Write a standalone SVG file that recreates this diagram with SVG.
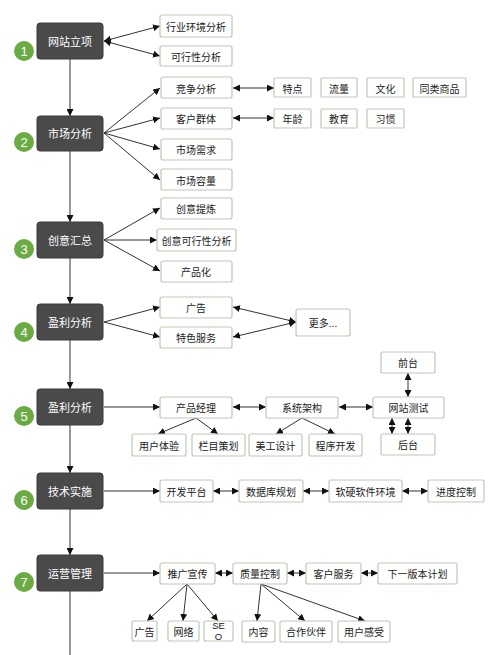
<svg xmlns="http://www.w3.org/2000/svg" width="500" height="655" viewBox="0 0 500 655">
<defs>
<marker id="ah" viewBox="0 0 10 10" refX="10" refY="5" markerWidth="7" markerHeight="7" markerUnits="userSpaceOnUse" orient="auto-start-reverse">
<path d="M0,0 L10,5 L0,10 z" fill="#111"/>
</marker>
<style>
.main rect{fill:#4a4a4a;stroke:#3a3a3a;stroke-width:1}
.main text{fill:#fff;font-family:"Noto Sans CJK SC","Liberation Sans",sans-serif;font-size:11px;text-anchor:middle;dominant-baseline:central}
.num circle{fill:#6aab43}
.num text{fill:#fff;font-family:"Liberation Sans",sans-serif;font-size:13px;text-anchor:middle;dominant-baseline:central}
.box rect{fill:#fff;stroke:#bfc8b3;stroke-width:1.2}
.box text{fill:#222;font-family:"Noto Sans CJK SC","Liberation Sans",sans-serif;font-size:10px;text-anchor:middle;dominant-baseline:central}
.box text.sm{font-family:"Liberation Sans",sans-serif;font-size:9.5px}
.c line,.c path{stroke:#333;stroke-width:1;fill:none}
.a{marker-end:url(#ah)}
.b{marker-end:url(#ah);marker-start:url(#ah)}
</style>
</defs>
<rect width="500" height="655" fill="#fff"/>

<g class="c" id="connectors">
<line class="a" x1="70" y1="59" x2="70" y2="116"/>
<line class="a" x1="70" y1="151" x2="70" y2="222"/>
<line class="a" x1="70" y1="258" x2="70" y2="304"/>
<line class="a" x1="70" y1="340" x2="70" y2="389"/>
<line class="a" x1="70" y1="425" x2="70" y2="473"/>
<line class="a" x1="70" y1="509" x2="70" y2="555"/>
<line x1="70" y1="591" x2="70" y2="655"/>
<line class="b" x1="104" y1="41" x2="160" y2="26"/>
<line class="b" x1="104" y1="41" x2="160" y2="56"/>
<line class="a" x1="104" y1="133" x2="160" y2="88"/>
<line class="a" x1="104" y1="133" x2="160" y2="118"/>
<line class="a" x1="104" y1="133" x2="160" y2="149"/>
<line class="a" x1="104" y1="133" x2="160" y2="180"/>
<line class="b" x1="233" y1="88" x2="274" y2="88"/>
<line class="b" x1="233" y1="118" x2="274" y2="118"/>
<line class="a" x1="104" y1="240" x2="160" y2="208"/>
<line class="a" x1="104" y1="240" x2="157" y2="240"/>
<line class="a" x1="104" y1="240" x2="160" y2="271"/>
<line class="a" x1="104" y1="322" x2="160" y2="307"/>
<line class="a" x1="104" y1="322" x2="160" y2="337"/>
<line class="b" x1="233" y1="307" x2="296" y2="322"/>
<line class="b" x1="233" y1="337" x2="296" y2="322"/>
<line class="a" x1="104" y1="407" x2="160" y2="407"/>
<line class="b" x1="233" y1="407" x2="266" y2="407"/>
<line class="b" x1="339" y1="407" x2="373" y2="407"/>
<line class="b" x1="408" y1="373" x2="408" y2="397"/>
<line class="b" x1="392" y1="418" x2="392" y2="434"/>
<line class="b" x1="408" y1="418" x2="408" y2="434"/>
<line class="a" x1="196" y1="418" x2="158" y2="434"/>
<line class="a" x1="196" y1="418" x2="218" y2="434"/>
<line class="a" x1="302" y1="418" x2="276" y2="434"/>
<line class="a" x1="302" y1="418" x2="335" y2="434"/>
<line class="a" x1="104" y1="491" x2="160" y2="491"/>
<line class="b" x1="213" y1="491" x2="239" y2="491"/>
<line class="b" x1="303" y1="491" x2="329" y2="491"/>
<line class="b" x1="402" y1="491" x2="428" y2="491"/>
<line class="a" x1="104" y1="573" x2="160" y2="573"/>
<line class="b" x1="215" y1="573" x2="233" y2="573"/>
<line class="b" x1="287" y1="573" x2="306" y2="573"/>
<line class="b" x1="361" y1="573" x2="378" y2="573"/>
<line class="a" x1="187" y1="584" x2="147" y2="621"/>
<line class="a" x1="187" y1="584" x2="183" y2="621"/>
<line class="a" x1="187" y1="584" x2="218" y2="621"/>
<line class="a" x1="261" y1="584" x2="257" y2="621"/>
<line class="a" x1="261" y1="584" x2="305" y2="621"/>
<line class="a" x1="261" y1="584" x2="365" y2="621"/>
</g>

<g id="n1" class="main"><rect x="37" y="23" width="66" height="36" rx="3"/><text x="70" y="41">网站立项</text></g>
<g id="n2" class="main"><rect x="37" y="116" width="66" height="35" rx="3"/><text x="70" y="133">市场分析</text></g>
<g id="n3" class="main"><rect x="37" y="222" width="66" height="36" rx="3"/><text x="70" y="240">创意汇总</text></g>
<g id="n4" class="main"><rect x="37" y="304" width="66" height="36" rx="3"/><text x="70" y="322">盈利分析</text></g>
<g id="n5" class="main"><rect x="37" y="389" width="66" height="36" rx="3"/><text x="70" y="407">盈利分析</text></g>
<g id="n6" class="main"><rect x="37" y="473" width="66" height="36" rx="3"/><text x="70" y="491">技术实施</text></g>
<g id="n7" class="main"><rect x="37" y="555" width="66" height="36" rx="3"/><text x="70" y="573">运营管理</text></g>

<g id="num1" class="num"><circle cx="24" cy="51" r="10"/><text x="24" y="51">1</text></g>
<g id="num2" class="num"><circle cx="24" cy="142" r="10"/><text x="24" y="142">2</text></g>
<g id="num3" class="num"><circle cx="24" cy="249" r="10"/><text x="24" y="249">3</text></g>
<g id="num4" class="num"><circle cx="24" cy="332" r="10"/><text x="24" y="332">4</text></g>
<g id="num5" class="num"><circle cx="24" cy="416" r="10"/><text x="24" y="416">5</text></g>
<g id="num6" class="num"><circle cx="24" cy="500" r="10"/><text x="24" y="500">6</text></g>
<g id="num7" class="num"><circle cx="24" cy="582" r="10"/><text x="24" y="582">7</text></g>

<g id="b_hyhj" class="box"><rect x="160" y="15" width="72" height="22" rx="2"/><text x="196" y="26">行业环境分析</text></g>
<g id="b_kxx" class="box"><rect x="160" y="46" width="72" height="20" rx="2"/><text x="196" y="56">可行性分析</text></g>
<g id="b_jzfx" class="box"><rect x="161" y="77" width="71" height="21" rx="2"/><text x="196" y="88">竞争分析</text></g>
<g id="b_khqt" class="box"><rect x="161" y="108" width="71" height="21" rx="2"/><text x="196" y="118">客户群体</text></g>
<g id="b_scxq" class="box"><rect x="161" y="139" width="71" height="21" rx="2"/><text x="196" y="149">市场需求</text></g>
<g id="b_scrl" class="box"><rect x="161" y="169" width="71" height="21" rx="2"/><text x="196" y="180">市场容量</text></g>
<g id="b_td" class="box"><rect x="274" y="78" width="37" height="19" rx="1"/><text x="292.5" y="88">特点</text></g>
<g id="b_ll" class="box"><rect x="321" y="78" width="36" height="19" rx="1"/><text x="339" y="88">流量</text></g>
<g id="b_wh" class="box"><rect x="367" y="78" width="37" height="19" rx="1"/><text x="385.5" y="88">文化</text></g>
<g id="b_tlsp" class="box"><rect x="413" y="78" width="53" height="19" rx="1"/><text x="439.5" y="88">同类商品</text></g>
<g id="b_nl" class="box"><rect x="274" y="109" width="37" height="19" rx="1"/><text x="292.5" y="118">年龄</text></g>
<g id="b_jy" class="box"><rect x="321" y="109" width="36" height="19" rx="1"/><text x="339" y="118">教育</text></g>
<g id="b_xg" class="box"><rect x="367" y="109" width="37" height="19" rx="1"/><text x="385.5" y="118">习惯</text></g>
<g id="b_cytl" class="box"><rect x="161" y="198" width="71" height="21" rx="2"/><text x="196" y="208">创意提炼</text></g>
<g id="b_cykx" class="box"><rect x="157" y="229" width="79" height="22" rx="2"/><text x="196.5" y="240">创意可行性分析</text></g>
<g id="b_cph" class="box"><rect x="161" y="261" width="71" height="21" rx="2"/><text x="196" y="271">产品化</text></g>
<g id="b_gg1" class="box"><rect x="160" y="297" width="72" height="21" rx="2"/><text x="196" y="307">广告</text></g>
<g id="b_tsfw" class="box"><rect x="160" y="327" width="72" height="21" rx="2"/><text x="196" y="337">特色服务</text></g>
<g id="b_gd" class="box"><rect x="296" y="309" width="54" height="27" rx="2"/><text x="323" y="322">更多...</text></g>
<g id="b_cpjl" class="box"><rect x="160" y="397" width="72" height="21" rx="2"/><text x="196" y="407">产品经理</text></g>
<g id="b_xtjg" class="box"><rect x="266" y="397" width="72" height="21" rx="2"/><text x="302" y="407">系统架构</text></g>
<g id="b_wzcs" class="box"><rect x="373" y="397" width="71" height="21" rx="2"/><text x="408.5" y="407">网站测试</text></g>
<g id="b_qt" class="box"><rect x="381" y="352" width="54" height="21" rx="2"/><text x="408" y="362">前台</text></g>
<g id="b_ht" class="box"><rect x="381" y="434" width="54" height="21" rx="2"/><text x="408" y="444">后台</text></g>
<g id="b_yhty" class="box"><rect x="132" y="434" width="54" height="22" rx="2"/><text x="159" y="445">用户体验</text></g>
<g id="b_lmch" class="box"><rect x="192" y="434" width="53" height="22" rx="2"/><text x="218.5" y="445">栏目策划</text></g>
<g id="b_mgsj" class="box"><rect x="249" y="434" width="53" height="22" rx="2"/><text x="275.5" y="445">美工设计</text></g>
<g id="b_cxkf" class="box"><rect x="309" y="434" width="53" height="22" rx="2"/><text x="335.5" y="445">程序开发</text></g>
<g id="b_kfpt" class="box"><rect x="160" y="480" width="53" height="22" rx="2"/><text x="186.5" y="491">开发平台</text></g>
<g id="b_sjk" class="box"><rect x="239" y="480" width="64" height="22" rx="2"/><text x="271" y="491">数据库规划</text></g>
<g id="b_rj" class="box"><rect x="329" y="480" width="73" height="22" rx="2"/><text x="365.5" y="491">软硬软件环境</text></g>
<g id="b_jdkz" class="box"><rect x="428" y="480" width="56" height="22" rx="2"/><text x="456" y="491">进度控制</text></g>
<g id="b_tgxc" class="box"><rect x="160" y="563" width="55" height="21" rx="2"/><text x="187.5" y="573">推广宣传</text></g>
<g id="b_zlkz" class="box"><rect x="233" y="563" width="54" height="21" rx="2"/><text x="260" y="573">质量控制</text></g>
<g id="b_khfw" class="box"><rect x="306" y="563" width="55" height="21" rx="2"/><text x="333.5" y="573">客户服务</text></g>
<g id="b_xybb" class="box"><rect x="378" y="563" width="79" height="21" rx="2"/><text x="417.5" y="573">下一版本计划</text></g>
<g id="b_gg2" class="box"><rect x="132" y="621" width="25" height="20" rx="2"/><text x="144.5" y="631">广告</text></g>
<g id="b_wl" class="box"><rect x="168" y="621" width="31" height="20" rx="2"/><text x="183.5" y="631">网络</text></g>
<g id="b_seo" class="box"><rect x="204" y="621" width="29" height="20" rx="2"/><text class="sm" x="218.5" y="625.5">SE</text><text class="sm" x="218.5" y="636.5">O</text></g>
<g id="b_nr" class="box"><rect x="242" y="621" width="33" height="21" rx="2"/><text x="258.5" y="631">内容</text></g>
<g id="b_hzhb" class="box"><rect x="280" y="621" width="52" height="21" rx="2"/><text x="306" y="631">合作伙伴</text></g>
<g id="b_yhgs" class="box"><rect x="338" y="621" width="52" height="21" rx="2"/><text x="364" y="631">用户感受</text></g>
</svg>
